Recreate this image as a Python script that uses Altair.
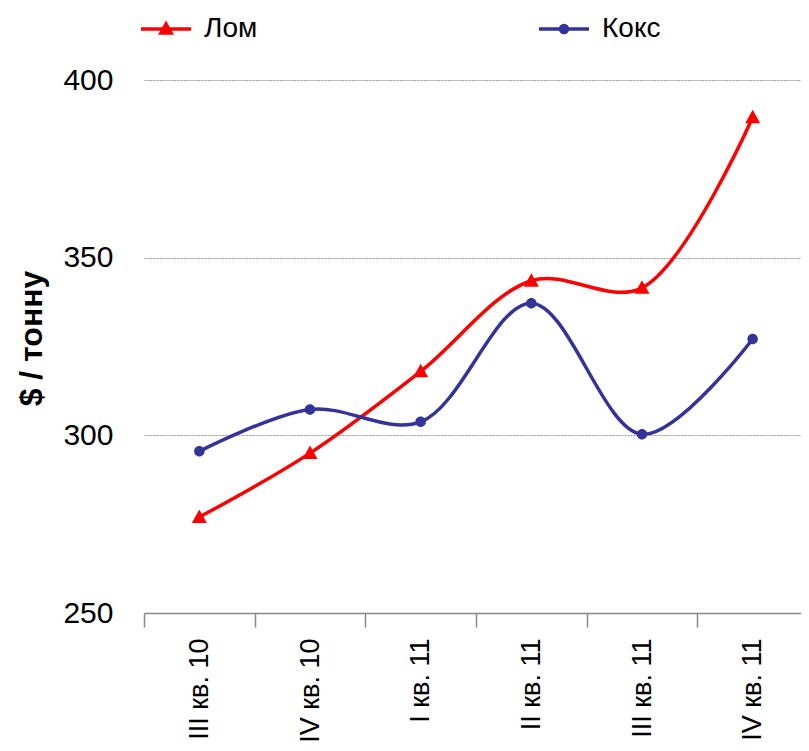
import altair as alt
import pandas as pd

quarters = ["III кв. 10", "IV кв. 10", "I кв. 11", "II кв. 11", "III кв. 11", "IV кв. 11"]
series = ["Лом", "Кокс"]
lom = [277, 295, 318, 343.5, 341.5, 389.5]
koks = [295.5, 307.3, 303.8, 337.2, 300.3, 327.1]
colors = ["#FF0000", "#333399"]
y_ticks = [250, 300, 350, 400]

rows = []
for q, v in zip(quarters, lom):
    rows.append({"q": q, "s": "Лом", "v": v})
for q, v in zip(quarters, koks):
    rows.append({"q": q, "s": "Кокс", "v": v})
df = pd.DataFrame(rows)

# marker paths: a horizontal stroke (only visible in the legend) plus the marker
tri_path = "M-5,0H5M0,-1L1,0.8L-1,0.8Z"
circ_path = "M-5,0H5M0.7,0A0.7,0.7,0,1,1,-0.7,0A0.7,0.7,0,1,1,0.7,0Z"

FONT = "Liberation Sans"

x_enc = alt.X(
    "q:N", sort=quarters, title=None,
    scale=alt.Scale(paddingInner=0, paddingOuter=0, range=[0, 664]),
    axis=alt.Axis(
        labelAngle=270, labelFontSize=27, labelFont=FONT, labelColor="#000",
        labelPadding=11, tickBand="extent", tickSize=14, tickColor="#888",
        tickWidth=1.5, domainColor="#888", domainWidth=1.5, grid=False,
    ),
)
y_enc = alt.Y(
    "v:Q", title="$ / тонну",
    scale=alt.Scale(domain=[250, 400], nice=False, zero=False),
    axis=alt.Axis(
        values=y_ticks, labelFontSize=30, labelFont=FONT, labelColor="#000",
        labelPadding=31, ticks=False, domain=False,
        grid=True, gridColor="#999", gridDash=[2, 1], gridWidth=1,
        titleFontSize=32, titleFont=FONT, titleFontWeight="bold", titleColor="#000",
        titleX=-113, titleY=258, titleBaseline="middle", titleAlign="center",
    ),
)

def make_legend():
    return alt.Legend(
        title=None, orient="none", legendX=8, legendY=-65, direction="horizontal",
        labelFontSize=28, labelFont=FONT, labelColor="#000", labelOffset=24,
        symbolSize=100, symbolStrokeWidth=3.5, symbolOpacity=1,
    )

lines = alt.Chart(df).mark_line(interpolate="catmull-rom", strokeWidth=3.5).encode(
    x=x_enc, y=y_enc,
    color=alt.Color("s:N", scale=alt.Scale(domain=series, range=colors), legend=make_legend()),
    detail="s:N",
)

points = alt.Chart(df).mark_point(filled=True, size=225, opacity=1, strokeWidth=0).encode(
    x=x_enc, y=y_enc,
    color=alt.Color("s:N", scale=alt.Scale(domain=series, range=colors), legend=None),
    shape=alt.Shape(
        "s:N",
        scale=alt.Scale(domain=series, range=[tri_path, circ_path]),
        legend=make_legend(),
    ),
)

chart = (lines + points).properties(
    width=657, height=533,
    autosize=alt.AutoSizeParams(type="none"),
    padding={"left": 136, "top": 72, "right": 0, "bottom": 130},
).configure_view(stroke=None).configure_legend(columnPadding=274)

chart.save("out.html", embed_options={"renderer": "svg", "actions": False})
